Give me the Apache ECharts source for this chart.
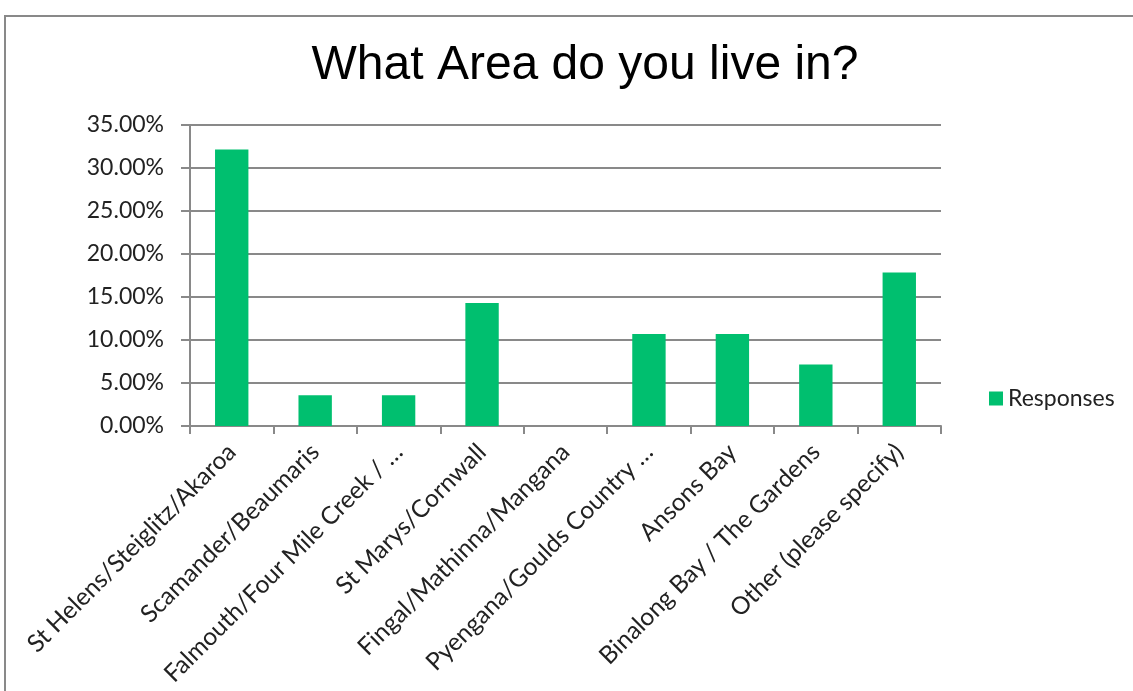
<!DOCTYPE html>
<html>
<head>
<meta charset="utf-8">
<script src="https://cdn.jsdelivr.net/npm/echarts@6/dist/echarts.min.js"></script>
<style>
html,body{margin:0;padding:0;background:#fff;}
#chart{width:1133px;height:691px;}
</style>
</head>
<body>
<div id="chart"></div>
<script>
const categories = [
  "St Helens/Steiglitz/Akaroa",
  "Scamander/Beaumaris",
  "Falmouth/Four Mile Creek / …",
  "St Marys/Cornwall",
  "Fingal/Mathinna/Mangana",
  "Pyengana/Goulds Country …",
  "Ansons Bay",
  "Binalong Bay / The Gardens",
  "Other (please specify)"
];
const responses = [32.14, 3.57, 3.57, 14.29, 0, 10.71, 10.71, 7.14, 17.86];
const seriesName = "Responses";
const titleText = "What Area do you live in?";

const chart = echarts.init(document.getElementById('chart'));
const axisGray = '#898989';
const labelFont = 'Lato';
chart.setOption({
  animation: false,
  backgroundColor: '#fff',
  graphic: [{
    type: 'rect',
    shape: {x: 5, y: 16, width: 1140, height: 700},
    style: {fill: 'none', stroke: axisGray, lineWidth: 2},
    silent: true
  }],
  title: {
    text: titleText,
    left: 580,
    textAlign: 'center',
    top: 37,
    textStyle: {fontFamily: 'Liberation Sans, Arial', fontSize: 48, fontWeight: 'normal', color: '#000'}
  },
  legend: {
    data: [seriesName],
    left: 984,
    top: 382,
    icon: 'rect',
    itemWidth: 14,
    itemHeight: 14,
    itemGap: 8,
    textStyle: {fontFamily: labelFont, fontSize: 23, color: '#222'}
  },
  grid: {left: 190, right: 192, top: 125, bottom: 265, containLabel: false},
  xAxis: {
    type: 'category',
    data: categories,
    axisLine: {lineStyle: {color: axisGray, width: 2}},
    axisTick: {show: true, length: 8, alignWithLabel: false, lineStyle: {color: axisGray, width: 2}},
    axisLabel: {rotate: 45, interval: 0, margin: 22, fontFamily: labelFont, fontSize: 24.5, color: '#222'}
  },
  yAxis: {
    type: 'value',
    min: 0,
    max: 35,
    interval: 5,
    axisLine: {show: true, lineStyle: {color: axisGray, width: 2}},
    axisTick: {show: true, length: 9, lineStyle: {color: axisGray, width: 2}},
    splitLine: {show: true, lineStyle: {color: axisGray, width: 2}},
    axisLabel: {margin: 26, fontFamily: labelFont, fontSize: 23, color: '#222',
      formatter: v => v.toFixed(2) + '%'}
  },
  series: [{
    name: seriesName,
    type: 'bar',
    data: responses,
    barWidth: '40%',
    itemStyle: {color: '#00BF6F'}
  }]
});
</script>
</body>
</html>
